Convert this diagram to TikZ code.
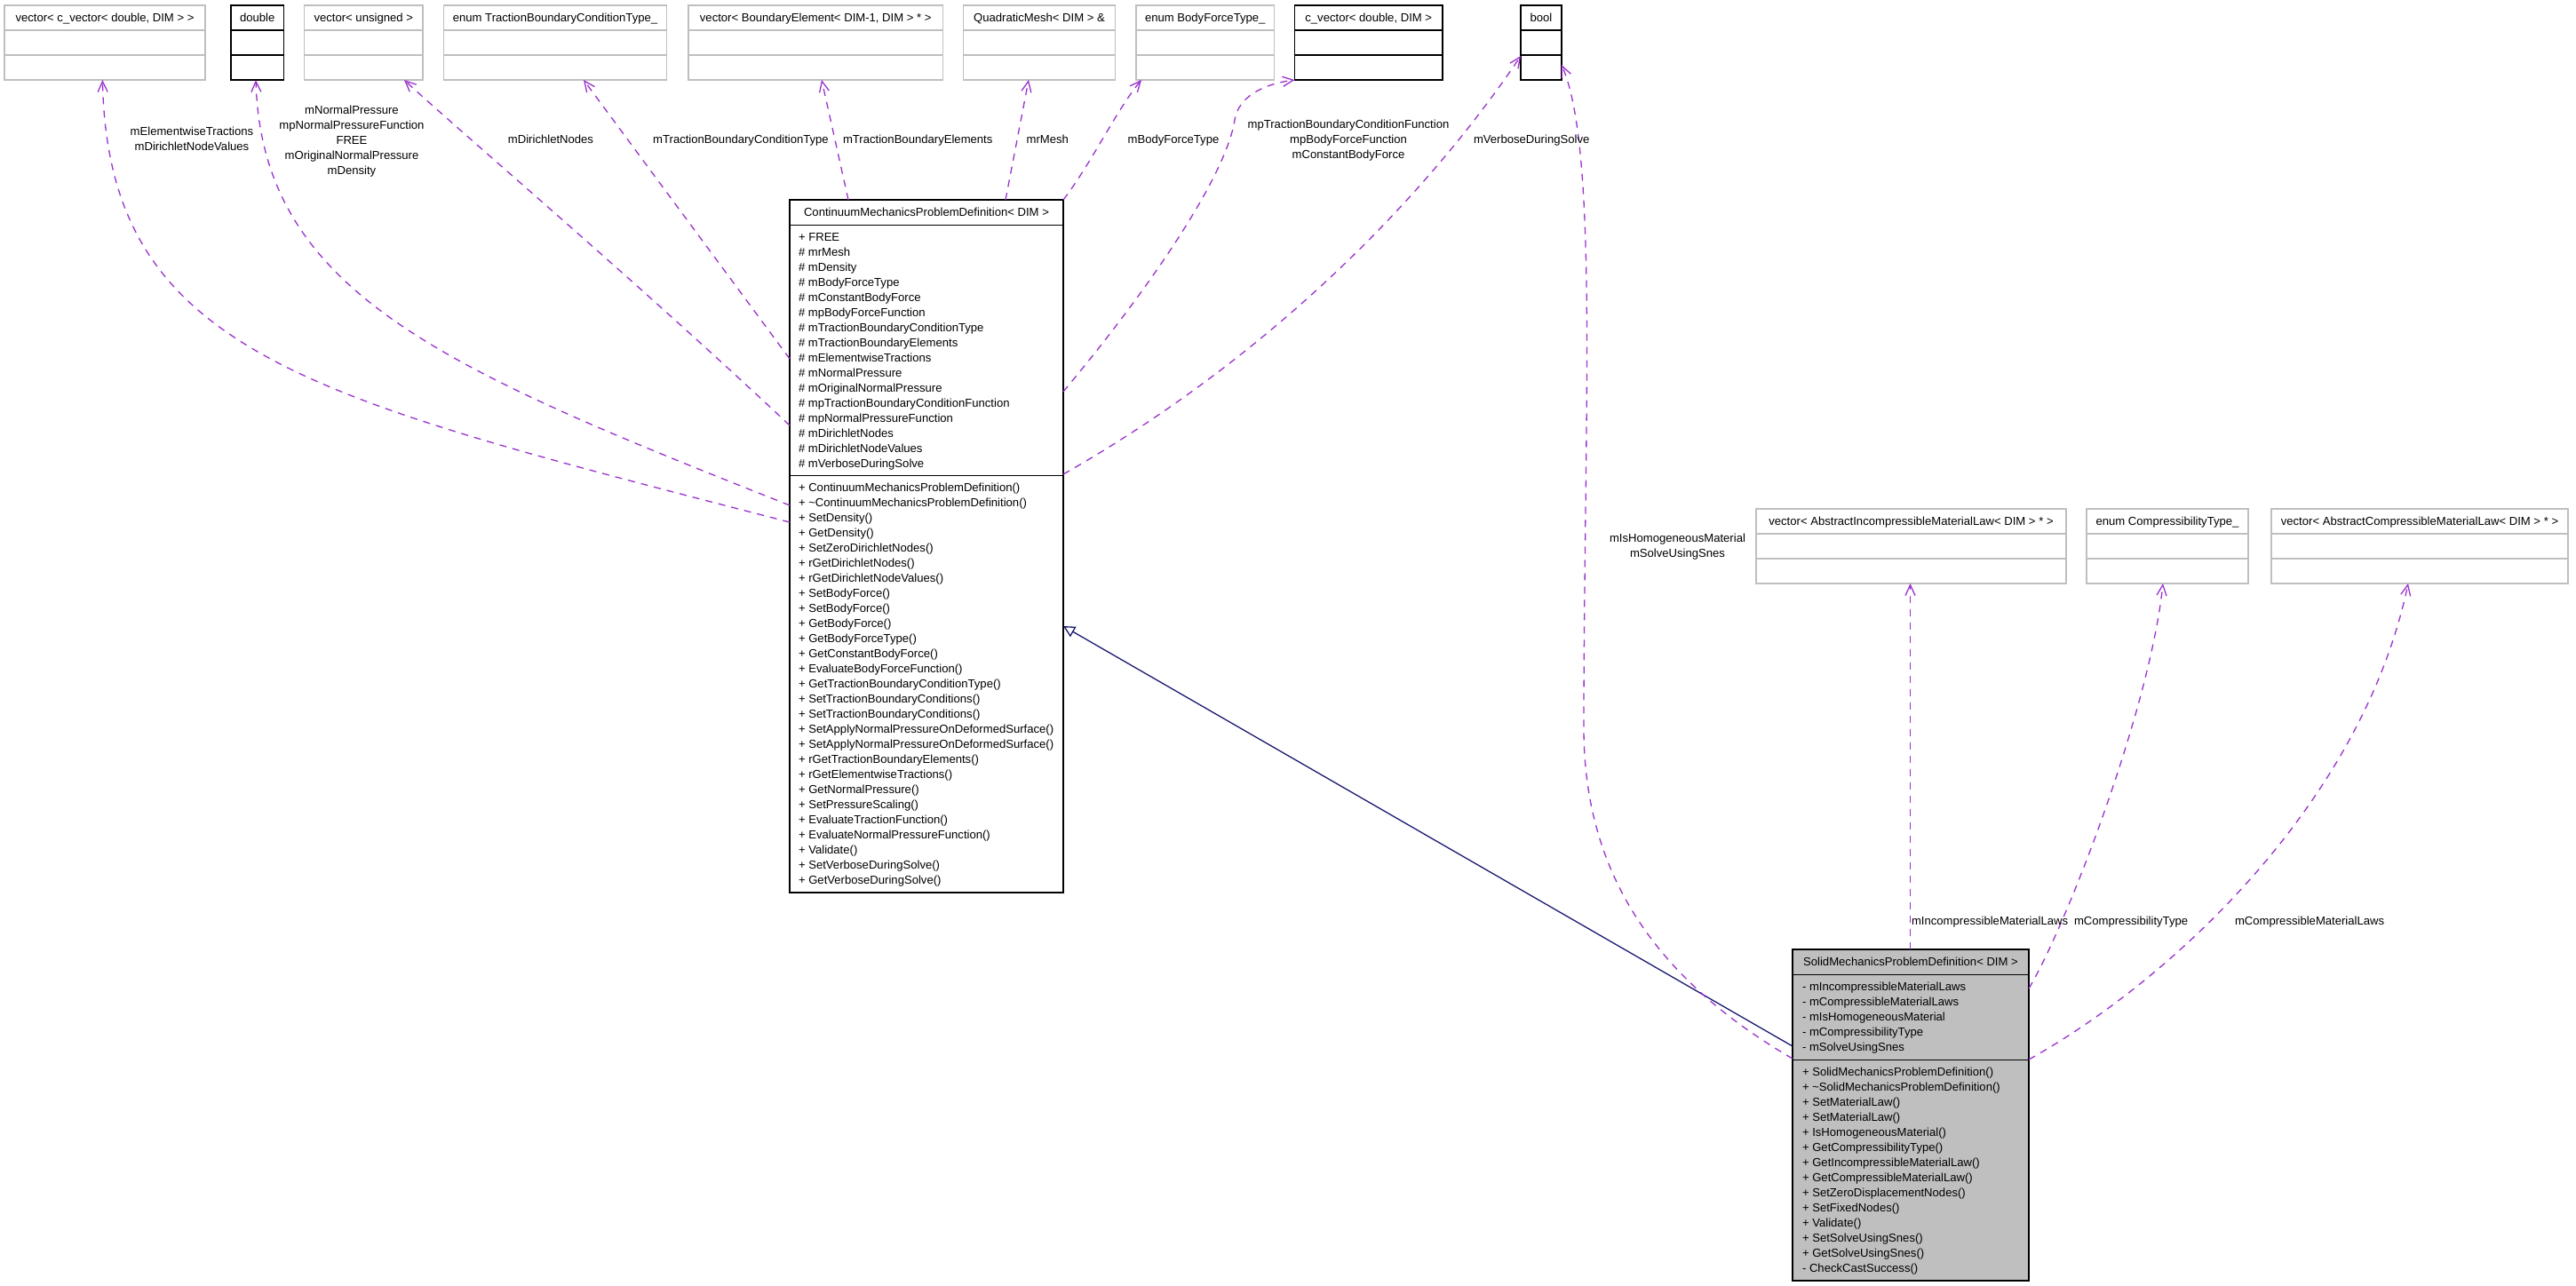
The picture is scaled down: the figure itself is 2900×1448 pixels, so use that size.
\documentclass[tikz,border=0pt]{standalone}
\usepackage{fontspec}
\setmainfont{Liberation Sans}
\usetikzlibrary{arrows.meta,calc}
\definecolor{edgepurple}{HTML}{9A32CD}
\definecolor{inhnavy}{HTML}{191970}
\definecolor{boxgray}{HTML}{BFBFBF}
\newcommand\emptyclass[6]{%
  \node[clsbox, draw=#5, minimum width={(#4)-(#2)}, minimum height=84] (#1) at (#2,#3) {};
  \draw[boxline, draw=#5] (#1.west |- 0,#3+28) -- (#1.east |- 0,#3+28)
                          (#1.west |- 0,#3+56) -- (#1.east |- 0,#3+56);
  \node[ctr] (#1t) at ({(#2+#4)/2},#3+18.7) {#6};
}
\newcommand\textrows[4]{%
  \foreach \t [count=\k from 0] in {#4} {\node[rowtxt] (#1\k) at (#2,#3+17*\k) {\t};}
}
\begin{document}
\begin{tikzpicture}[x=1pt,y=-1pt,
  font=\fontsize{13.1}{17}\selectfont,
  rowtxt/.style={anchor=base west, inner sep=0pt, outer sep=0pt},
  ctr/.style={anchor=base, inner sep=0pt, outer sep=0pt},
  lblw/.style={anchor=base west, inner sep=0pt, outer sep=0pt},
  boxline/.style={line width=1.4pt},
  clsbox/.style={boxline, anchor=north west, inner sep=0pt, outer sep=0pt},
  uses/.style={draw=edgepurple, line width=1.3pt, dash pattern=on 8pt off 7pt,
     -{Straight Barb[length=12pt,width=11pt]}},
  inherit/.style={draw=inhnavy, line width=1.3pt,
     -{Triangle[open, length=13pt, width=13pt, fill=white]}}]
\fill[white] (0,0) rectangle (2900,1448);
\useasboundingbox (0,0) rectangle (2900,1448);

% ---- top classes
\emptyclass{cvec}{5}{6}{231}{boxgray}{vector< c\_vector< double, DIM > >}
\emptyclass{dbl}{260}{6}{319.5}{black}{double}
\emptyclass{vuns}{342.5}{6}{476}{boxgray}{vector< unsigned >}
\emptyclass{enumtbc}{499.5}{6}{750.5}{boxgray}{enum TractionBoundaryConditionType\_}
\emptyclass{vbe}{775}{6}{1061.5}{boxgray}{vector< BoundaryElement< DIM-1, DIM > * >}
\emptyclass{qmesh}{1084.5}{6}{1255.5}{boxgray}{QuadraticMesh< DIM > \&}
\emptyclass{enumbf}{1279}{6}{1434.5}{boxgray}{enum BodyForceType\_}
\emptyclass{cvector}{1457.5}{6}{1624}{black}{c\_vector< double, DIM >}
\emptyclass{bool}{1712}{6}{1758}{black}{bool}

% ---- right classes
\emptyclass{vinc}{1977}{573}{2326}{boxgray}{vector< AbstractIncompressibleMaterialLaw< DIM > * >}
\emptyclass{enumct}{2349}{573}{2531}{boxgray}{enum CompressibilityType\_}
\emptyclass{vcomp}{2557}{573}{2891}{boxgray}{vector< AbstractCompressibleMaterialLaw< DIM > * >}

% ---- ContinuumMechanicsProblemDefinition
\node[clsbox, draw=black, fill=white, minimum width=308, minimum height=780] (cmpd) at (889,225) {};
\draw[boxline] (cmpd.west |- 0,253.3) -- (cmpd.east |- 0,253.3)
               (cmpd.west |- 0,535.7) -- (cmpd.east |- 0,535.7);
\node[ctr] (cmpdt) at (1043,243.7) {ContinuumMechanicsProblemDefinition< DIM >};
\textrows{cmpda}{899}{271.4}{+ FREE,\# mrMesh,\# mDensity,\# mBodyForceType,\# mConstantBodyForce,\# mpBodyForceFunction,\# mTractionBoundaryConditionType,\# mTractionBoundaryElements,\# mElementwiseTractions,\# mNormalPressure,\# mOriginalNormalPressure,\# mpTractionBoundaryConditionFunction,\# mpNormalPressureFunction,\# mDirichletNodes,\# mDirichletNodeValues,\# mVerboseDuringSolve}
\textrows{cmpdm}{899}{553}{+ ContinuumMechanicsProblemDefinition(),+ \textasciitilde{}ContinuumMechanicsProblemDefinition(),+ SetDensity(),+ GetDensity(),+ SetZeroDirichletNodes(),+ rGetDirichletNodes(),+ rGetDirichletNodeValues(),+ SetBodyForce(),+ SetBodyForce(),+ GetBodyForce(),+ GetBodyForceType(),+ GetConstantBodyForce(),+ EvaluateBodyForceFunction(),+ GetTractionBoundaryConditionType(),+ SetTractionBoundaryConditions(),+ SetTractionBoundaryConditions(),+ SetApplyNormalPressureOnDeformedSurface(),+ SetApplyNormalPressureOnDeformedSurface(),+ rGetTractionBoundaryElements(),+ rGetElementwiseTractions(),+ GetNormalPressure(),+ SetPressureScaling(),+ EvaluateTractionFunction(),+ EvaluateNormalPressureFunction(),+ Validate(),+ SetVerboseDuringSolve(),+ GetVerboseDuringSolve()}

% ---- SolidMechanicsProblemDefinition
\node[clsbox, draw=black, fill=boxgray, minimum width=266, minimum height=373] (solid) at (2018,1069) {};
\draw[boxline] (solid.west |- 0,1097.3) -- (solid.east |- 0,1097.3)
               (solid.west |- 0,1193.3) -- (solid.east |- 0,1193.3);
\node[ctr] (solidt) at (2151,1087.7) {SolidMechanicsProblemDefinition< DIM >};
\textrows{solida}{2029}{1115.4}{- mIncompressibleMaterialLaws,- mCompressibleMaterialLaws,- mIsHomogeneousMaterial,- mCompressibilityType,- mSolveUsingSnes}
\textrows{solidm}{2029}{1211.4}{+ SolidMechanicsProblemDefinition(),+ \textasciitilde{}SolidMechanicsProblemDefinition(),+ SetMaterialLaw(),+ SetMaterialLaw(),+ IsHomogeneousMaterial(),+ GetCompressibilityType(),+ GetIncompressibleMaterialLaw(),+ GetCompressibleMaterialLaw(),+ SetZeroDisplacementNodes(),+ SetFixedNodes(),+ Validate(),+ SetSolveUsingSnes(),+ GetSolveUsingSnes(),- CheckCastSuccess()}

% ---- connectors
\draw[inherit] (solid.west |- 0,1178) -- (cmpd.east |- 0,705);

\draw[uses] (cmpd.west |- 0,588) .. controls (350,448) and (122,400) .. (cvec.south -| 115.4,0);
\draw[uses] (cmpd.west |- 0,569) .. controls (500,415) and (295,330) .. (dbl.south -| 288,0);
\draw[uses] (cmpd.west |- 0,479) .. controls (720,320) and (520,150) .. (vuns.south -| 455,0);
\draw[uses] (cmpd.west |- 0,404) -- (enumtbc.south -| 657,0);
\draw[uses] (cmpd.north -| 955,0) -- (vbe.south -| 925,0);
\draw[uses] (cmpd.north -| 1132,0) -- (qmesh.south -| 1158,0);
\draw[uses] (cmpd.north east) .. controls (1228,185) and (1258,122) .. (enumbf.south -| 1285,0);
\draw[uses] (cmpd.east |- 0,441) .. controls (1290,330) and (1380,200) .. (1390,135)
            .. controls (1394,110) and (1420,95) .. (cvector.south west);
\draw[uses] (cmpd.east |- 0,534) .. controls (1450,390) and (1620,200) .. (bool.west |- 0,63);

\draw[uses] (solid.west |- 0,1192) .. controls (1860,1100) and (1783,980) .. (1783,820)
            .. controls (1783,480) and (1800,170) .. (bool.east |- 0,73);
\draw[uses] (solid.north -| 2150.5,0) -- (vinc.south -| 2150.5,0);
\draw[uses] (solid.east |- 0,1113) .. controls (2325,1045) and (2420,800) .. (enumct.south -| 2435,0);
\draw[uses] (solid.east |- 0,1193) .. controls (2450,1100) and (2660,900) .. (vcomp.south -| 2711,0);

% ---- edge labels
\node[ctr] (l1a) at (216,152.4) {mElementwiseTractions};
\node[ctr] (l1b) at (216,169.7) {mDirichletNodeValues};
\node[ctr] (l2a) at (396,128.2) {mNormalPressure};
\node[ctr] (l2b) at (396,145.2) {mpNormalPressureFunction};
\node[ctr] (l2c) at (396,162.2) {FREE};
\node[ctr] (l2d) at (396,179.2) {mOriginalNormalPressure};
\node[ctr] (l2e) at (396,196.2) {mDensity};
\node[ctr] (l3) at (620,161.4) {mDirichletNodes};
\node[ctr] (l4) at (834,161.4) {mTractionBoundaryConditionType};
\node[lblw] (l5) at (949,161.4) {mTractionBoundaryElements};
\node[lblw] (l6) at (1155.7,161.4) {mrMesh};
\node[ctr] (l7) at (1321,161.4) {mBodyForceType};
\node[ctr] (l8a) at (1518,144.7) {mpTractionBoundaryConditionFunction};
\node[ctr] (l8b) at (1518,161.4) {mpBodyForceFunction};
\node[ctr] (l8c) at (1518,178.4) {mConstantBodyForce};
\node[lblw] (l9) at (1659,161.4) {mVerboseDuringSolve};
\node[ctr] (l10a) at (1888.5,610.7) {mIsHomogeneousMaterial};
\node[ctr] (l10b) at (1888.5,627) {mSolveUsingSnes};
\node[lblw] (l11) at (2152,1041.4) {mIncompressibleMaterialLaws};
\node[lblw] (l12) at (2335,1041.4) {mCompressibilityType};
\node[lblw] (l13) at (2516,1041.4) {mCompressibleMaterialLaws};
\end{tikzpicture}
\end{document}
